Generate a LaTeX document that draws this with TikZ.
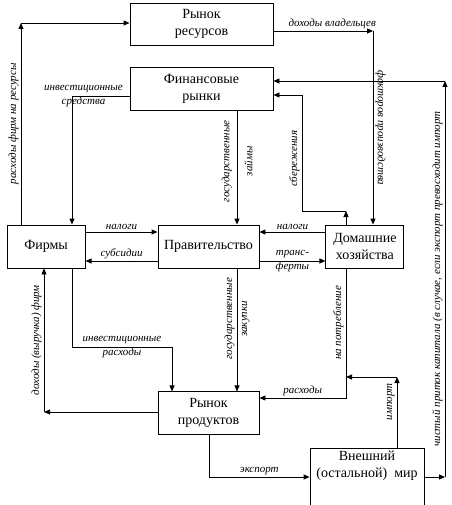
\documentclass[tikz,border=0pt]{standalone}
\usepackage{fontspec}
\setmainfont{Liberation Serif}
\newfontfamily\boxfont{Liberation Serif}
\usetikzlibrary{arrows.meta, positioning, calc}
\tikzset{
  box/.style={
    rectangle, draw, line width=0.9pt,
    minimum height=43pt, inner sep=2pt,
    align=center, font=\boxfont\fontsize{14}{17}\selectfont,
  },
  worldtext/.style={anchor=north, align=center, inner sep=3pt,
    font=\boxfont\fontsize{14}{17}\selectfont},
  arrow/.style={-{Triangle[length=6pt, width=5pt]}, line width=0.9pt},
  lbl/.style={font=\boxfont\fontsize{11}{14}\selectfont\itshape, inner sep=2pt},
}

\begin{document}
\begin{tikzpicture}[x=1pt, y=-1pt]
  \useasboundingbox (0,0) rectangle (451,505);

  \node[box, minimum width=143pt, minimum height=42pt] (res) at (201.5,24) {Рынок\\ресурсов};
  \node[box, minimum width=143pt, below=22pt of res] (fin) {Финансовые\\рынки};
  \node[box, minimum width=101pt] (gov) at (208.5,246.5) {Правительство};
  \node[box, minimum width=78pt, left=72pt of gov] (firms) {Фирмы};
  \node[box, minimum width=78pt, right=66pt of gov] (hh) {Домашние\\хозяйства};
  \node[box, minimum width=101pt, below=123pt of gov] (prod) {Рынок\\продуктов};
  \node[box, minimum width=114pt, minimum height=70pt, anchor=north,
    label={[worldtext]north:Внешний\\(остальной)\ \ мир}] (world) at (367,448) {};

  \coordinate (c1) at (21,23);
  \coordinate (c2) at (373,31);
  \coordinate (c3) at (72,96);
  \coordinate (c4) at (346,211);
  \coordinate (c5) at (302,211);
  \coordinate (c6) at (302,95);
  \coordinate (c7) at (445,477);
  \coordinate (c8) at (445,81);
  \coordinate (gl) at (237,0);
  \coordinate (c9) at (72,347);
  \coordinate (c10) at (172,347);
  \coordinate (c11) at (44,412);
  \coordinate (c12) at (346,398);
  \coordinate (c13) at (397,377);
  \coordinate (c14) at (209,477);

  % firms -> resource market
  \draw[arrow] (c1 |- firms.north) -- node[lbl, rotate=90, above]{расходы фирм на ресурсы} (c1);
  \draw[arrow] (c1) -- (c1 -| res.west);

  % resource market -> households
  \draw[arrow] (c2 -| res.east) -- node[lbl, above, pos=0.59]{доходы владельцев} (c2);
  \draw[arrow] (c2) -- node[lbl, rotate=-90, above]{факторов производства} (c2 |- hh.north);

  % financial markets -> firms
  \draw[arrow] (c3 -| fin.west) -- node[lbl, align=center, pos=0.8]{инвестиционные\\средства} (c3) -- (c3 |- firms.north);

  % households -> financial markets
  \draw[arrow] (c4 |- hh.north) -- (c4);
  \draw[arrow] (c4) -- (c5) -- node[lbl, rotate=90, above, pos=0.45]{сбережения} (c6) -- (c6 -| fin.east);

  % world -> financial markets
  \draw[arrow] (c7 -| world.east) -- (c7);
  \draw[arrow] (c7) -- node[lbl, rotate=90, above]{чистый приток капитала (в случае, если экспорт превосходит импорт} (c8);
  \draw[arrow] (c8) -- (c8 -| fin.east);

  % state loans and purchases
  \draw[arrow] (gl |- fin.south) -- node[lbl, rotate=90, align=center, pos=0.44]{государственные\\[9pt]займы} (gl |- gov.north);
  \draw[arrow] (gl |- gov.south) -- node[lbl, rotate=90, align=center, pos=0.41]{государственные\\[1pt]закупки} (gl |- prod.north);

  % taxes, subsidies, transfers
  \draw[arrow] ([yshift=14.5pt]firms.east) -- node[lbl, above]{налоги} ([yshift=14.5pt]gov.west);
  \draw[arrow] ([yshift=-14.5pt]gov.west) -- node[lbl, above]{субсидии} ([yshift=-14.5pt]firms.east);
  \draw[arrow] ([yshift=14.5pt]hh.west) -- node[lbl, above]{налоги} ([yshift=14.5pt]gov.east);
  \draw[arrow] ([yshift=-14.5pt]gov.east) -- node[lbl, align=center]{транс-\\ферты} ([yshift=-14.5pt]hh.west);

  % firms -> product market
  \draw[arrow] (c9 |- firms.south) -- (c9) -- node[lbl, align=center]{инвестиционные\\расходы} (c10) -- (c10 |- prod.north);

  % product market -> firms
  \draw[arrow] (c11 -| prod.west) -- (c11);
  \draw[arrow] (c11) -- node[lbl, rotate=90, above]{доходы (выручка) фирм} (c11 |- firms.south);

  % households -> product market
  \draw[arrow] (c12 |- hh.south) -- node[lbl, rotate=90, above, pos=0.42]{на потребление} (c12) -- node[lbl, above]{расходы} (c12 -| prod.east);

  % world <-> product market
  \draw[arrow] (c13 |- world.north) -- node[lbl, rotate=90, above, pos=0.65]{импорт} (c13);
  \draw[arrow] (c13) -- (c12 |- c13);
  \draw[arrow] (c14 |- prod.south) -- (c14) -- node[lbl, above]{экспорт} (c14 -| world.west);

\end{tikzpicture}
\end{document}
